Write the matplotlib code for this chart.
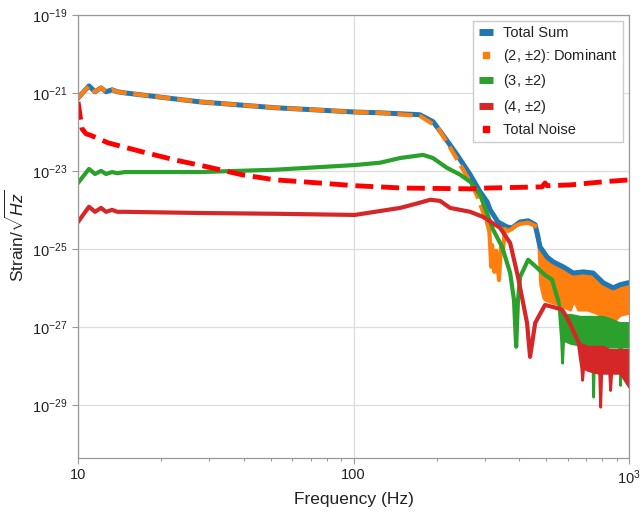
import numpy as np
import matplotlib
matplotlib.use("Agg")
from matplotlib import pyplot as plt
from matplotlib.lines import Line2D
from matplotlib import ticker

plt.rcParams['font.family'] = ['Liberation Sans', 'DejaVu Sans']
plt.rcParams['mathtext.fontset'] = 'custom'
plt.rcParams['mathtext.rm'] = 'Liberation Sans'
plt.rcParams['mathtext.it'] = 'Liberation Sans:italic'

# values: frequency in Hz, strain as log10
total_f = [10, 10.96, 11.53, 12.12, 12.64, 13.29, 13.9, 14.8, 27.7, 51.9, 101, 124.8, 174,
           194.4, 211, 237.5, 265, 288, 305, 313, 334, 361, 376, 402, 430, 456, 475, 504,
           529, 576, 627, 681, 740, 805, 875, 927, 991, 1000]
total_log = [-21.13, -20.82, -20.97, -20.87, -20.97, -20.92, -20.97, -21.0, -21.23, -21.38,
             -21.49, -21.51, -21.56, -21.74, -22.08, -22.59, -23.10, -23.54, -23.79, -24.0,
             -24.31, -24.44, -24.46, -24.31, -24.28, -24.38, -24.95, -25.21, -25.33, -25.46,
             -25.62, -25.59, -25.62, -25.87, -26.0, -25.92, -25.87, -25.87]

# (2, +-2) dominant: dashed part, then the spiky part, then the noisy band
dom_f = [10, 10.96, 11.53, 12.12, 12.64, 13.29, 13.9, 14.8, 27.7, 51.9, 101, 124.8, 174,
         201, 218, 244, 265, 280, 305]
dom_log = [-21.13, -20.82, -20.97, -20.87, -20.97, -20.92, -20.97, -21.0, -21.23, -21.38,
           -21.49, -21.51, -21.59, -21.87, -22.26, -22.85, -23.28, -23.62, -24.33]
dom_mid_f = [305, 311, 316, 318, 324, 329, 337, 343, 349, 354, 364, 376, 386, 402, 430, 456]
dom_mid_log = [-24.33, -24.56, -25.46, -24.90, -25.59, -25.05, -25.80, -24.90, -25.0,
               -24.49, -24.54, -24.49, -24.41, -24.36, -24.33, -24.41]
dom_band_f = [456, 468, 475, 488, 495, 529, 562, 611, 627, 653, 704, 746, 785, 832, 875,
              927, 1000]
dom_band_top = [-24.41, -24.62, -24.99, -25.10, -25.18, -25.38, -25.44, -25.56, -25.62,
                -25.64, -25.62, -25.64, -25.82, -25.95, -26.03, -25.97, -25.90]
dom_band_bot = [-24.41, -24.90, -25.90, -26.26, -26.31, -26.38, -26.44, -26.56, -26.31,
                -26.56, -26.56, -26.62, -26.69, -26.77, -26.87, -26.69, -26.64]

# (3, +-2)
l3_f = [10, 10.96, 11.53, 12.12, 12.64, 13.29, 13.9, 14.8, 27.7, 51.9, 101, 124.8, 147.5,
        178.8, 194, 218, 244, 265, 288, 321, 346, 370, 382, 389, 395, 402, 430, 464, 495,
        525, 538, 552]
l3_log = [-23.31, -22.95, -23.08, -23.0, -23.08, -23.03, -23.06, -23.03, -23.03, -22.97,
          -22.85, -22.79, -22.67, -22.59, -22.67, -22.92, -23.10, -23.28, -23.62, -24.51,
          -24.95, -25.62, -26.31, -27.51, -26.31, -25.72, -25.28, -25.49, -25.67, -25.79,
          -26.05, -26.31]
l3_band_f = [552, 566, 571, 576, 611, 664, 704, 734, 740, 746, 805, 867, 920, 927, 935, 1000]
l3_band_top = [-26.31, -26.69, -26.69, -26.69, -26.69, -26.74, -26.74, -26.74, -26.74,
               -26.74, -26.74, -26.82, -26.90, -26.90, -26.90, -26.90]
l3_band_bot = [-26.31, -27.33, -27.92, -27.33, -27.41, -27.46, -27.51, -27.51, -28.79,
               -27.51, -27.51, -27.51, -27.51, -28.49, -27.51, -27.51]

# (4, +-2)
l4_f = [10, 10.96, 11.53, 12.12, 12.64, 13.29, 13.9, 14.8, 27.7, 51.9, 101, 147.5, 167,
        190, 206, 224, 265, 295, 340, 370, 395, 426, 437, 456, 495, 529, 571, 601, 648]
l4_log = [-24.31, -23.92, -24.05, -23.95, -24.05, -24.0, -24.05, -24.05, -24.08, -24.10,
          -24.13, -23.95, -23.85, -23.74, -23.77, -23.95, -24.05, -24.18, -24.46, -24.85,
          -25.72, -26.90, -27.77, -26.90, -26.44, -26.49, -26.56, -26.82, -27.33]
l4_band_f = [648, 670, 675, 681, 704, 740, 778, 785, 792, 805, 846, 853, 861, 927, 1000]
l4_band_top = [-27.33, -27.46, -27.46, -27.46, -27.51, -27.51, -27.51, -27.51, -27.51,
               -27.51, -27.59, -27.59, -27.59, -27.59, -27.59]
l4_band_bot = [-27.33, -28.05, -28.36, -28.05, -28.10, -28.15, -28.18, -29.05, -28.18,
               -28.18, -28.18, -28.62, -28.18, -28.18, -28.54]

noise_f = [10, 10.34, 10.7, 11.05, 12.85, 15.1, 17.08, 22.5, 29.6, 39.4, 51.9, 65.6, 101,
           151, 200, 265, 305, 483, 495, 504, 611, 805, 1000]
noise_log = [-21.23, -21.92, -22.05, -22.08, -22.28, -22.41, -22.51, -22.72, -22.90, -23.10,
             -23.23, -23.28, -23.38, -23.44, -23.45, -23.46, -23.44, -23.41, -23.31, -23.38,
             -23.36, -23.28, -23.23]

labels = ["Total Sum", "(2, $\\pm$2): Dominant", "(3, $\\pm$2)", "(4, $\\pm$2)", "Total Noise"]
c_blue, c_orange, c_green, c_red, c_noise = "#1f77b4", "#ff7f0e", "#2ca02c", "#d62728", "#ff0000"


def p(a):
    return 10.0 ** np.asarray(a)


fig = plt.figure(figsize=(6.42, 5.15), dpi=100)
ax = fig.add_axes([0.1215, 0.111, 0.8585, 0.86])

ax.plot(total_f, p(total_log), color=c_blue, lw=3.6, solid_joinstyle="round")
ax.plot(dom_f, p(dom_log), color=c_orange, lw=3.0, ls=(0, (3.7, 1.6)))
ax.plot(dom_mid_f, p(dom_mid_log), color=c_orange, lw=3.0)
ax.fill_between(dom_band_f, p(dom_band_bot), p(dom_band_top), color=c_orange, lw=2)
ax.plot(l3_f, p(l3_log), color=c_green, lw=3.0)
ax.fill_between(l3_band_f, p(l3_band_bot), p(l3_band_top), color=c_green, lw=2)
ax.plot(l4_f, p(l4_log), color=c_red, lw=3.0)
ax.fill_between(l4_band_f, p(l4_band_bot), p(l4_band_top), color=c_red, lw=2)
ax.plot(noise_f, p(noise_log), color=c_noise, lw=3.5, ls=(0, (3.7, 1.6)))

ax.set_xscale("log")
ax.set_yscale("log")
ax.set_xlim(10, 1000)
ax.set_ylim(10 ** -30.36, 1e-19)

ax.xaxis.set_major_locator(ticker.FixedLocator([10, 100, 1000]))
ax.xaxis.set_major_formatter(ticker.FixedFormatter(["10", "100", "$10^3$"]))
ax.xaxis.set_minor_locator(ticker.LogLocator(base=10, subs=np.arange(2, 10)))
ax.xaxis.set_minor_formatter(ticker.NullFormatter())
ax.yaxis.set_major_locator(ticker.FixedLocator([1e-19, 1e-21, 1e-23, 1e-25, 1e-27, 1e-29]))
ax.yaxis.set_minor_locator(ticker.NullLocator())

ax.grid(True, which="major", color="#dddddd", lw=0.9)
ax.set_axisbelow(True)
for s in ax.spines.values():
    s.set_color("#999999")
    s.set_linewidth(0.9)
ax.tick_params(which="both", colors="#999999", labelcolor="#222222", labelsize=10.5, width=0.8)
ax.tick_params(which="major", length=4)
ax.tick_params(which="minor", length=2.5)

ax.set_xlabel("Frequency (Hz)", fontsize=12.5, color="#222222")
ax.set_ylabel("Strain/$\\sqrt{Hz}$", fontsize=12.5, color="#222222")

handles = [
    Line2D([], [], color=c_blue, lw=5, solid_capstyle="butt"),
    Line2D([], [], color=c_orange, ls="none", marker="s", ms=4.5),
    Line2D([], [], color=c_green, lw=5, solid_capstyle="butt"),
    Line2D([], [], color=c_red, lw=5, solid_capstyle="butt"),
    Line2D([], [], color=c_noise, ls="none", marker="s", ms=4.5),
]
leg = ax.legend(handles, labels, loc="upper right", fontsize=10.5, handlelength=1.0,
                fancybox=False, framealpha=1, edgecolor="#cccccc", borderpad=0.35,
                handletextpad=0.7, numpoints=1, borderaxespad=0.4)
for t in leg.get_texts():
    t.set_color("#222222")

fig.savefig("out.png", dpi=100)
